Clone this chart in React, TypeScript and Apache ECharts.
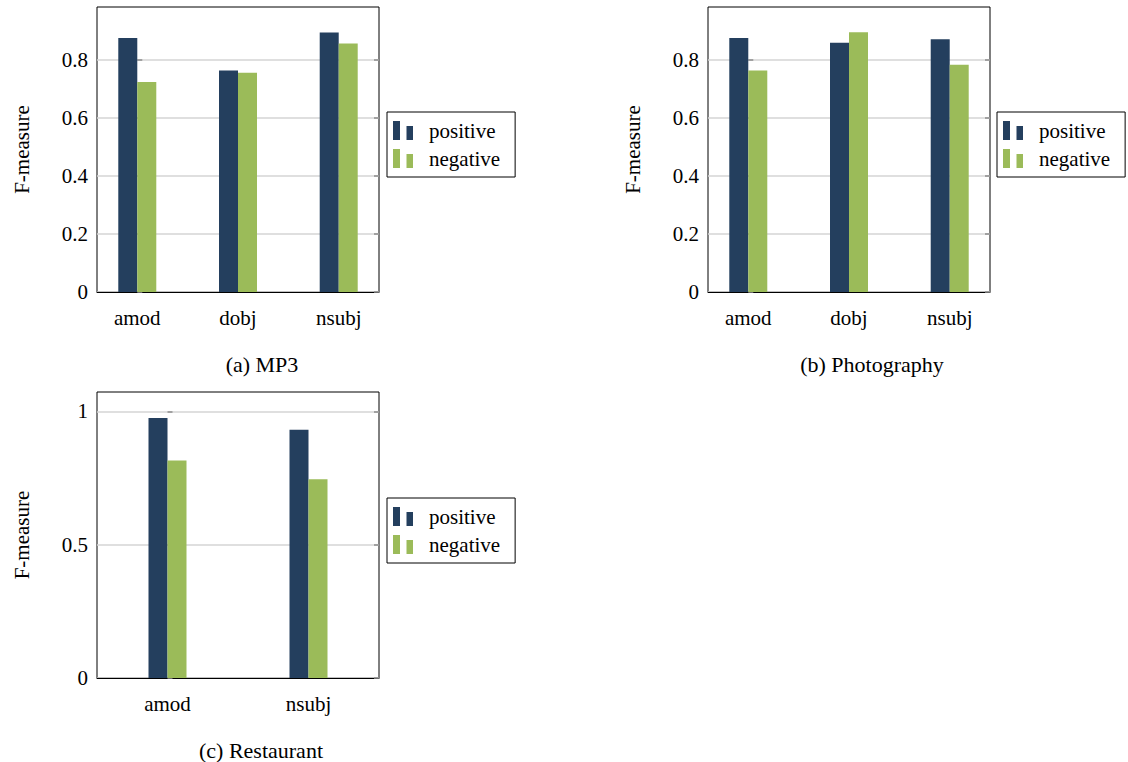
import React, { useEffect, useRef } from 'react';
import * as echarts from 'echarts';

const catsA = ['amod', 'dobj', 'nsubj'];
const posA = [0.874, 0.762, 0.893];
const negA = [0.723, 0.755, 0.855];

const catsB = ['amod', 'dobj', 'nsubj'];
const posB = [0.874, 0.858, 0.87];
const negB = [0.762, 0.894, 0.782];

const catsC = ['amod', 'nsubj'];
const posC = [0.975, 0.931];
const negC = [0.816, 0.746];

const yTicksAB = [0, 0.2, 0.4, 0.6, 0.8];
const yTicksC = [0, 0.5, 1];
const seriesNames = ['positive', 'negative'];
const captions = ['(a) MP3', '(b) Photography', '(c) Restaurant'];
const yName = 'F-measure';

const FONT = "'Liberation Serif', 'DejaVu Serif', serif";
const FS = 21;
const NAVY = '#243f5e';
const GREEN = '#9bbb59';
const LEGEND_ICON = 'path://M0,0h7v19h-7zM13.5,5h6.5v14h-6.5zM31,19';

const panels = [
  {
    cats: catsA, pos: posA, neg: negA, ticks: yTicksAB, ymax: 0.981, interval: 0.2,
    xmin: -0.4, xmax: 2.4,
    grid: { left: 97, top: 7, width: 282, height: 285 },
    legend: { left: 387, top: 112 },
    caption: { x: 262, y: 364, text: captions[0] },
  },
  {
    cats: catsB, pos: posB, neg: negB, ticks: yTicksAB, ymax: 0.981, interval: 0.2,
    xmin: -0.4, xmax: 2.4,
    grid: { left: 708, top: 7, width: 282, height: 285 },
    legend: { left: 997, top: 112 },
    caption: { x: 872, y: 364, text: captions[1] },
  },
  {
    cats: catsC, pos: posC, neg: negC, ticks: yTicksC, ymax: 1.073, interval: 0.5,
    xmin: -0.5, xmax: 1.5,
    grid: { left: 97, top: 392, width: 282, height: 286 },
    legend: { left: 387, top: 498 },
    caption: { x: 261, y: 750, text: captions[2] },
  },
];

function buildOption() {
  const grid: any[] = [];
  const xAxis: any[] = [];
  const yAxis: any[] = [];
  const series: any[] = [];
  const legend: any[] = [];
  const graphic: any[] = [];

  panels.forEach((p, i) => {
    grid.push({
      ...p.grid,
      containLabel: false,
      show: true,
      borderColor: '#000',
      borderWidth: 1,
      backgroundColor: 'transparent',
    });
    xAxis.push({
      type: 'value',
      gridIndex: i,
      min: p.xmin,
      max: p.xmax,
      splitLine: { show: false },
      axisTick: { show: false },
      axisLine: { show: true, onZero: false, lineStyle: { color: '#000', width: 1 } },
      axisLabel: {
        customValues: p.cats.map((_, k) => k),
        formatter: (v: number) => p.cats[Math.round(v)] ?? '',
        fontFamily: FONT,
        fontSize: FS,
        color: '#000',
        margin: 15,
      },
    });
    const yCommon = {
      type: 'value',
      gridIndex: i,
      min: 0,
      max: p.ymax,
      interval: p.interval,
    };
    yAxis.push({
      ...yCommon,
      position: 'left',
      name: yName,
      nameLocation: 'middle',
      nameGap: 65,
      nameRotate: 90,
      nameTextStyle: { fontFamily: FONT, fontSize: FS, color: '#000' },
      axisLine: { show: false },
      axisTick: {
        show: true,
        inside: true,
        length: 5,
        customValues: p.ticks,
        lineStyle: { color: '#8c8c8c', width: 1.5 },
      },
      splitLine: { show: true, lineStyle: { color: '#d4d4d4', width: 1.5 } },
      axisLabel: {
        customValues: p.ticks,
        formatter: (v: number) => String(v),
        fontFamily: FONT,
        fontSize: FS,
        color: '#000',
        margin: 9,
      },
    });
    yAxis.push({
      ...yCommon,
      position: 'right',
      axisLine: { show: false },
      axisTick: {
        show: true,
        inside: true,
        length: 5,
        customValues: p.ticks,
        lineStyle: { color: '#8c8c8c', width: 1.5 },
      },
      splitLine: { show: false },
      axisLabel: { show: false },
    });
    series.push({
      name: seriesNames[0],
      type: 'bar',
      xAxisIndex: i,
      yAxisIndex: 2 * i,
      data: p.pos.map((v, k) => [k, v]),
      barWidth: 19,
      barGap: '0%',
      itemStyle: { color: NAVY },
    });
    series.push({
      name: seriesNames[1],
      type: 'bar',
      xAxisIndex: i,
      yAxisIndex: 2 * i,
      data: p.neg.map((v, k) => [k, v]),
      barWidth: 19,
      barGap: '0%',
      itemStyle: { color: GREEN },
    });
    legend.push({
      data: seriesNames,
      orient: 'vertical',
      left: p.legend.left,
      top: p.legend.top,
      padding: [8, 15, 8, 6],
      itemGap: 7,
      itemWidth: 31,
      itemHeight: 19,
      icon: LEGEND_ICON,
      borderColor: '#000',
      borderWidth: 1,
      backgroundColor: '#fff',
      selectedMode: false,
      textStyle: { fontFamily: FONT, fontSize: FS, color: '#000' },
    });
    graphic.push({
      type: 'text',
      x: p.caption.x,
      y: p.caption.y,
      style: {
        text: p.caption.text,
        fontFamily: FONT,
        fontSize: 22,
        fill: '#000',
        align: 'center',
        verticalAlign: 'middle',
      },
    });
  });

  return {
    animation: false,
    backgroundColor: '#fff',
    textStyle: { fontFamily: FONT },
    grid,
    xAxis,
    yAxis,
    series,
    legend,
    graphic,
  };
}

export default function App() {
  const ref = useRef<HTMLDivElement>(null);
  useEffect(() => {
    if (!ref.current) return;
    const chart = echarts.init(ref.current, undefined, { renderer: 'svg' });
    chart.setOption(buildOption() as any);
    return () => chart.dispose();
  }, []);
  return (
    <div
      ref={ref}
      style={{ position: 'absolute', left: 0, top: 0, width: 1128, height: 762 }}
    />
  );
}
